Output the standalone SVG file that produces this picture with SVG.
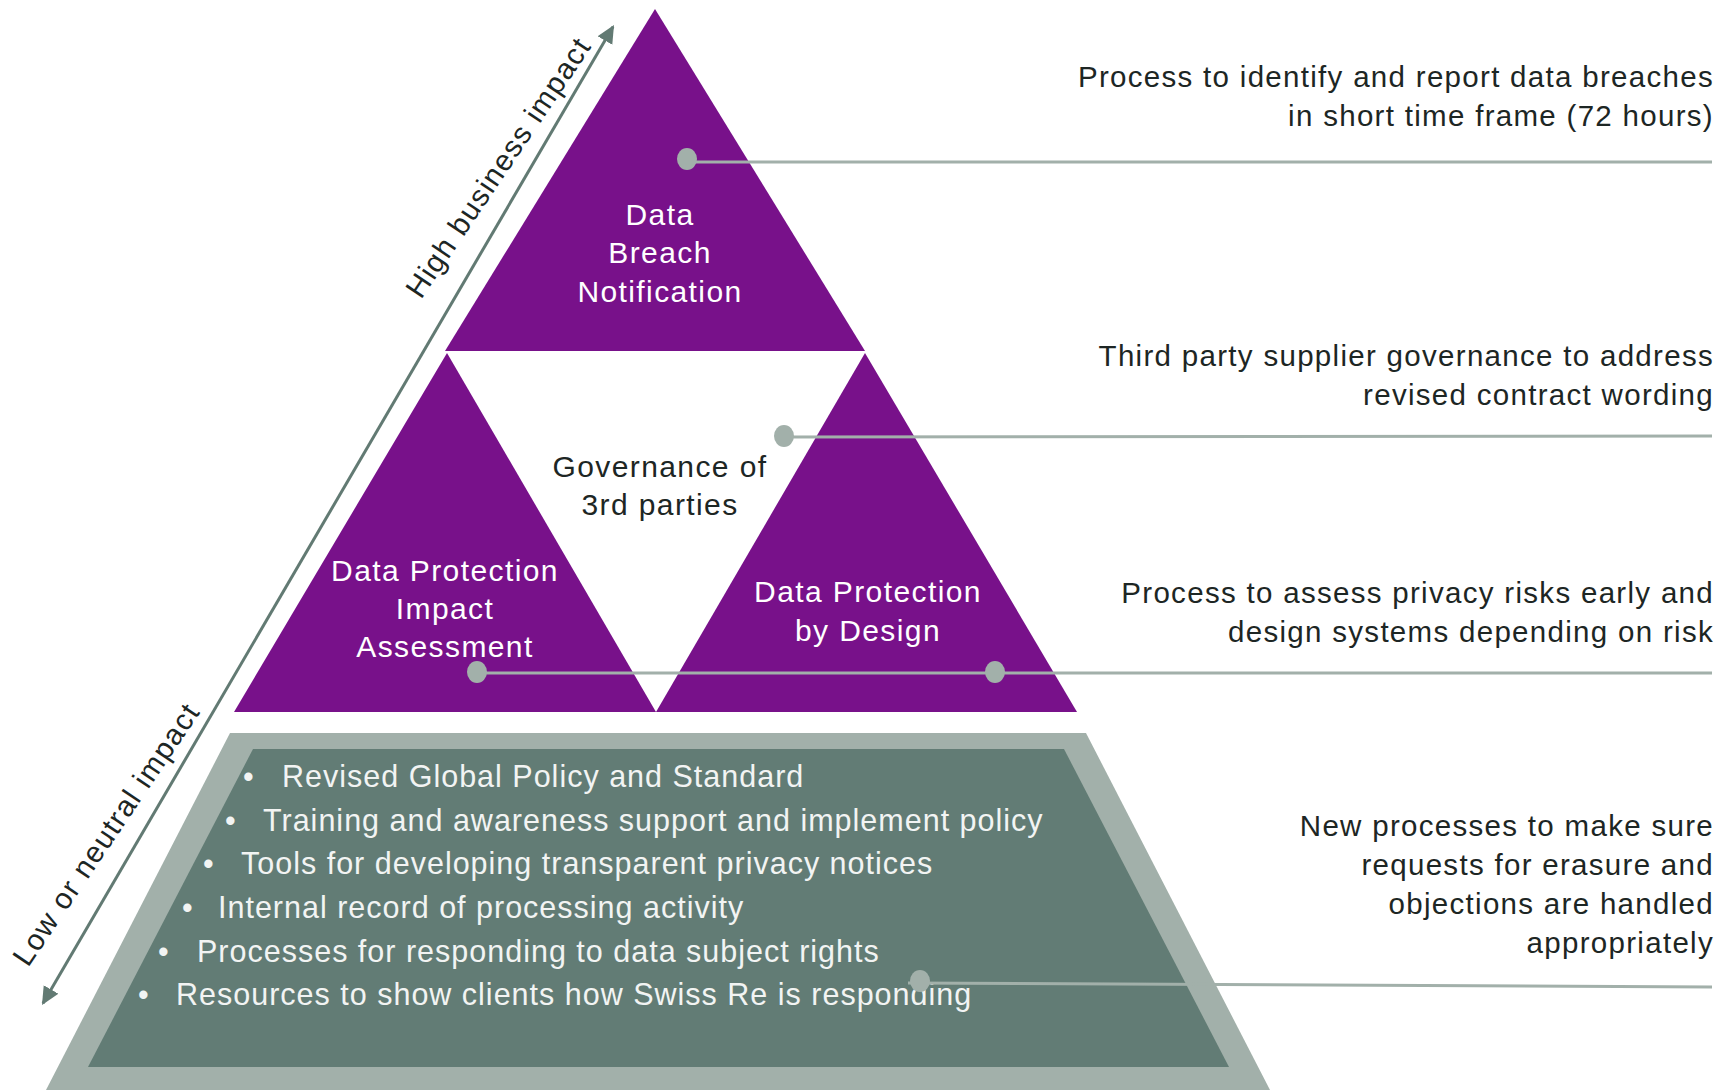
<svg xmlns="http://www.w3.org/2000/svg" width="1735" height="1090" viewBox="0 0 1735 1090">
  <style>
    text { font-family: "Liberation Sans", Arial, sans-serif; }
    .note { font-size: 29.5px; letter-spacing: 1.3px; fill: #1d2624; text-anchor: end; }
    .axis-label { font-size: 29.5px; letter-spacing: 1.3px; fill: #1d2624; }
    .inner { font-size: 30px; letter-spacing: 1.4px; fill: #ffffff; text-anchor: middle; }
    .inner-dark { font-size: 30px; letter-spacing: 1.4px; fill: #1d2624; text-anchor: middle; }
    .bullet { font-size: 30.5px; letter-spacing: 1px; fill: #f2f4f3; }
    .purple { fill: #78118a; }
    .lead { stroke: #a2b0aa; stroke-width: 3; fill: none; }
    .dot { fill: #a2b0aa; }
  </style>
  <defs>
    <marker id="axis-head" markerUnits="userSpaceOnUse" markerWidth="20" markerHeight="20" refX="16" refY="8.5" orient="auto-start-reverse">
      <path d="M0,0 L18,8.5 L0,17 z" fill="#627a73"/>
    </marker>
  </defs>

  <rect width="1735" height="1090" fill="#ffffff"/>

  <!-- top tier -->
  <g id="node-breach">
    <polygon class="purple" points="655,9 865,351 445,351"/>
    <text class="inner" x="660" y="225">Data</text>
    <text class="inner" x="660" y="263">Breach</text>
    <text class="inner" x="660" y="302">Notification</text>
  </g>

  <!-- middle tier -->
  <g id="node-dpia">
    <polygon class="purple" points="447,353 656,712 234,712"/>
    <text class="inner" x="445" y="581">Data Protection</text>
    <text class="inner" x="445" y="619">Impact</text>
    <text class="inner" x="445" y="657">Assessment</text>
  </g>

  <g id="node-dpbd">
    <polygon class="purple" points="865,353 1077,712 656,712"/>
    <text class="inner" x="868" y="602">Data Protection</text>
    <text class="inner" x="868" y="641">by Design</text>
  </g>

  <g id="node-governance">
    <text class="inner-dark" x="660" y="477">Governance of</text>
    <text class="inner-dark" x="660" y="515">3rd parties</text>
  </g>

  <!-- foundation tier -->
  <g id="node-foundation">
    <polygon fill="#a2b0aa" points="230,733 1086,733 1270,1090 46,1090"/>
    <polygon fill="#627c75" points="253,749 1064,749 1229,1067 88,1067"/>
    <text class="bullet" y="787"><tspan x="243">•</tspan><tspan x="282">Revised Global Policy and Standard</tspan></text>
    <text class="bullet" y="831"><tspan x="225">•</tspan><tspan x="263">Training and awareness support and implement policy</tspan></text>
    <text class="bullet" y="874"><tspan x="203">•</tspan><tspan x="241">Tools for developing transparent privacy notices</tspan></text>
    <text class="bullet" y="918"><tspan x="182">•</tspan><tspan x="218">Internal record of processing activity</tspan></text>
    <text class="bullet" y="962"><tspan x="158">•</tspan><tspan x="197">Processes for responding to data subject rights</tspan></text>
    <text class="bullet" y="1005"><tspan x="138">•</tspan><tspan x="176">Resources to show clients how Swiss Re is responding</tspan></text>
  </g>

  <!-- impact axis -->
  <g id="axis">
    <line x1="43" y1="1003.3" x2="613" y2="26.7" stroke="#627a73" stroke-width="3" marker-start="url(#axis-head)" marker-end="url(#axis-head)"/>
    <text class="axis-label" transform="translate(421,300) rotate(-56)">High business impact</text>
    <text class="axis-label" transform="translate(28,968) rotate(-56)">Low or neutral impact</text>
  </g>

  <!-- leader lines to the notes -->
  <g id="connectors">
    <line class="lead" x1="687" y1="162" x2="1712" y2="162"/>
    <ellipse class="dot" cx="687" cy="159" rx="10" ry="11"/>
    <line class="lead" x1="784" y1="437" x2="1712" y2="436"/>
    <ellipse class="dot" cx="784" cy="436" rx="10" ry="11"/>
    <line class="lead" x1="477" y1="673" x2="1712" y2="673"/>
    <ellipse class="dot" cx="477" cy="672" rx="10" ry="11"/>
    <ellipse class="dot" cx="995" cy="672" rx="10" ry="11"/>
    <line class="lead" x1="908" y1="983" x2="1712" y2="987"/>
    <ellipse class="dot" cx="920" cy="981" rx="10" ry="11"/>
  </g>

  <!-- notes -->
  <g id="note-breach">
    <text class="note" x="1714" y="87">Process to identify and report data breaches</text>
    <text class="note" x="1714" y="126">in short time frame (72 hours)</text>
  </g>
  <g id="note-governance">
    <text class="note" x="1714" y="366">Third party supplier governance to address</text>
    <text class="note" x="1714" y="405">revised contract wording</text>
  </g>
  <g id="note-dpia">
    <text class="note" x="1714" y="603">Process to assess privacy risks early and</text>
    <text class="note" x="1714" y="642">design systems depending on risk</text>
  </g>
  <g id="note-foundation">
    <text class="note" x="1714" y="836">New processes to make sure</text>
    <text class="note" x="1714" y="875">requests for erasure and</text>
    <text class="note" x="1714" y="914">objections are handled</text>
    <text class="note" x="1714" y="953">appropriately</text>
  </g>
</svg>
